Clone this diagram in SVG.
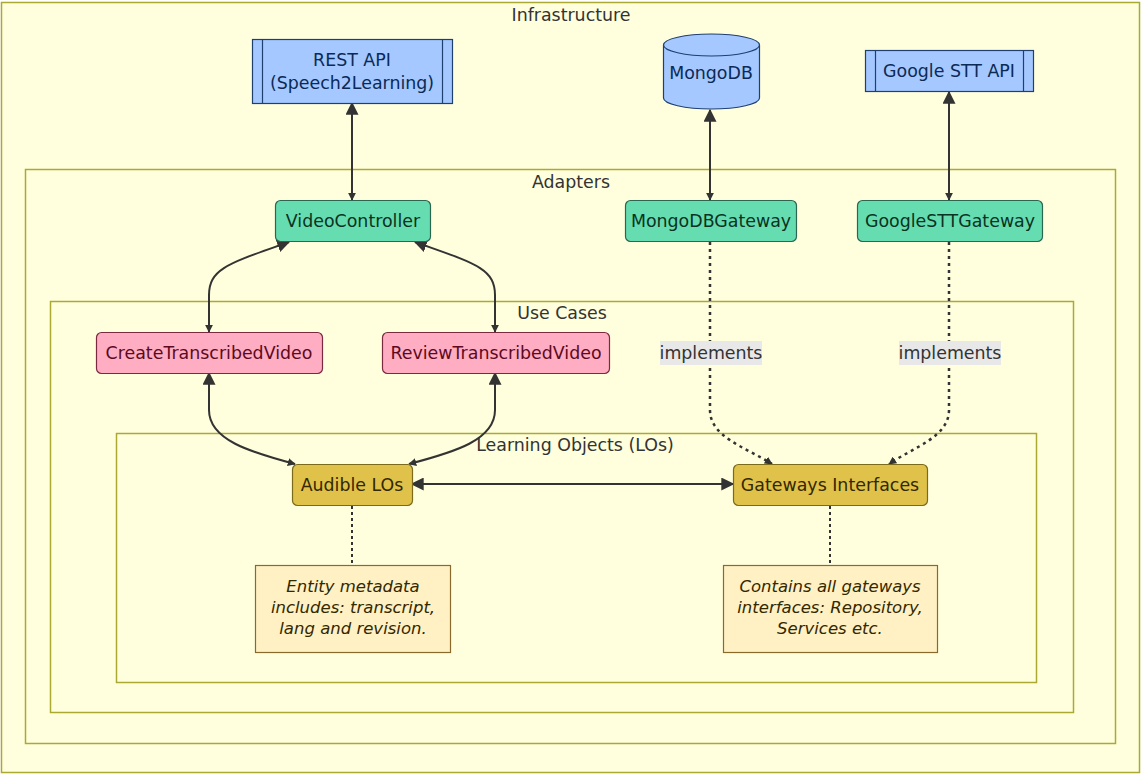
<svg xmlns="http://www.w3.org/2000/svg" width="1143" height="775" viewBox="0 0 1143 775">
<style>
text{font-family:"DejaVu Sans",sans-serif;font-size:17.4px;text-anchor:middle;dominant-baseline:central}
.cl{fill:#ffffde;stroke:#aaaa33;stroke-width:1.5}
.clt{fill:#333}
.blue{fill:#a4c8ff;stroke:#1f3f6f;stroke-width:1.2}
.bt{fill:#0c2a55}
.green{fill:#66ddb0;stroke:#2a6650;stroke-width:1.2}
.gt{fill:#0a3322}
.pink{fill:#ffadc2;stroke:#7a2a40;stroke-width:1.2}
.pt{fill:#5c0a22}
.gold{fill:#e0c24a;stroke:#7a6a1a;stroke-width:1.2}
.ot{fill:#332800}
.note{fill:#fff1c4;stroke:#8a6a2a;stroke-width:1.2}
.nt{fill:#332800;font-style:italic;font-size:16.5px}
.e{fill:none;stroke:#333;stroke-width:2}
.d{fill:none;stroke:#333;stroke-width:2.5;stroke-dasharray:3 4}
.n{fill:none;stroke:#333;stroke-width:2;stroke-dasharray:3 3}
.lb{fill:#e8e8e8}
.lt{fill:#333}
</style>
<defs>
<marker id="big" viewBox="0 0 10 10" refX="9" refY="5" markerWidth="13" markerHeight="13" orient="auto-start-reverse" markerUnits="userSpaceOnUse">
<path d="M0,0 L10,5 L0,10 z" fill="#333"/>
</marker>
<marker id="sm" viewBox="0 0 10 10" refX="9" refY="5" markerWidth="8" markerHeight="8" orient="auto-start-reverse" markerUnits="userSpaceOnUse">
<path d="M0,0 L10,5 L0,10 z" fill="#333"/>
</marker>
</defs>
<g id="clusters">
<g id="infrastructure"><rect class="cl" x="1.5" y="2.5" width="1138" height="770"/><text class="clt" x="571" y="15">Infrastructure</text></g>
<g id="adapters"><rect class="cl" x="25.5" y="169.5" width="1090" height="574"/><text class="clt" x="571" y="182">Adapters</text></g>
<g id="usecases"><rect class="cl" x="50.5" y="301.5" width="1023" height="411"/><text class="clt" x="562" y="313">Use Cases</text></g>
<g id="los"><rect class="cl" x="116.5" y="433.5" width="920" height="249"/><text class="clt" x="575" y="445">Learning Objects (LOs)</text></g>
</g>
<g id="connectors">
<path class="e" d="M352,103 L352,200" marker-start="url(#big)" marker-end="url(#sm)"/>
<path class="e" d="M710,110 L710,200" marker-start="url(#big)" marker-end="url(#sm)"/>
<path class="e" d="M949,92 L949,200" marker-start="url(#big)" marker-end="url(#sm)"/>
<path class="e" d="M289,242 C230,263 209,268 209,295 L209,332" marker-start="url(#big)" marker-end="url(#sm)"/>
<path class="e" d="M415,242 C474,263 495,268 495,295 L495,332" marker-start="url(#big)" marker-end="url(#sm)"/>
<path class="e" d="M209,373 L209,410 C209,440 250,452 295,464" marker-start="url(#big)" marker-end="url(#sm)"/>
<path class="e" d="M495,373 L495,410 C495,440 455,452 409,464" marker-start="url(#big)" marker-end="url(#sm)"/>
<path class="e" d="M412,484 L733,484" marker-start="url(#big)" marker-end="url(#big)"/>
<path class="d" d="M710,242 L710,410 C710,437 745,447 772,464" marker-end="url(#sm)"/>
<path class="d" d="M949,242 L949,410 C949,437 914,447 889,464" marker-end="url(#sm)"/>
<path class="n" d="M352,506 L352,565"/>
<path class="n" d="M830,506 L830,565"/>
<g id="label1"><rect class="lb" x="660" y="341" width="102" height="24"/><text class="lt" x="711" y="353">implements</text></g>
<g id="label2"><rect class="lb" x="899" y="341" width="102" height="24"/><text class="lt" x="950" y="353">implements</text></g>
</g>
<g id="restapi">
<rect class="blue" x="252.5" y="39.5" width="200" height="64"/>
<line class="blue" x1="262.5" y1="39.5" x2="262.5" y2="103.5"/>
<line class="blue" x1="442.5" y1="39.5" x2="442.5" y2="103.5"/>
<text class="bt" x="352" y="60">REST API</text>
<text class="bt" x="352" y="83">(Speech2Learning)</text>
</g>
<g id="mongodb">
<path class="blue" d="M663.5,45 A48,11 0 0 1 759.5,45 L759.5,98 A48,11 0 0 1 663.5,98 Z"/>
<path class="blue" d="M663.5,45 A48,11 0 0 0 759.5,45" fill="none"/>
<text class="bt" x="711" y="73">MongoDB</text>
</g>
<g id="googlestt">
<rect class="blue" x="865.5" y="50.5" width="168" height="41"/>
<line class="blue" x1="875.5" y1="50.5" x2="875.5" y2="91.5"/>
<line class="blue" x1="1023.5" y1="50.5" x2="1023.5" y2="91.5"/>
<text class="bt" x="949" y="71">Google STT API</text>
</g>
<g id="videocontroller"><rect class="green" x="275.5" y="200.5" width="155" height="41" rx="5"/><text class="gt" x="353" y="221">VideoController</text></g>
<g id="mongodbgateway"><rect class="green" x="625.5" y="200.5" width="171" height="41" rx="5"/><text class="gt" x="711" y="221">MongoDBGateway</text></g>
<g id="googlesttgateway"><rect class="green" x="857.5" y="200.5" width="185" height="41" rx="5"/><text class="gt" x="950" y="221">GoogleSTTGateway</text></g>
<g id="createtranscribedvideo"><rect class="pink" x="96.5" y="332.5" width="226" height="41" rx="5"/><text class="pt" x="209" y="353">CreateTranscribedVideo</text></g>
<g id="reviewtranscribedvideo"><rect class="pink" x="382.5" y="332.5" width="227" height="41" rx="5"/><text class="pt" x="496" y="353">ReviewTranscribedVideo</text></g>
<g id="audiblelos"><rect class="gold" x="292.5" y="464.5" width="120" height="41" rx="5"/><text class="ot" x="352" y="485">Audible LOs</text></g>
<g id="gatewaysinterfaces"><rect class="gold" x="733.5" y="464.5" width="194" height="41" rx="5"/><text class="ot" x="830" y="485">Gateways Interfaces</text></g>
<g id="note1">
<rect class="note" x="255.5" y="565.5" width="195" height="87"/>
<text class="nt" x="353" y="586">Entity metadata</text>
<text class="nt" x="353" y="607">includes: transcript,</text>
<text class="nt" x="353" y="628">lang and revision.</text>
</g>
<g id="note2">
<rect class="note" x="723.5" y="565.5" width="214" height="87"/>
<text class="nt" x="830" y="586">Contains all gateways</text>
<text class="nt" x="830" y="607">interfaces: Repository,</text>
<text class="nt" x="830" y="628">Services etc.</text>
</g>
</svg>
